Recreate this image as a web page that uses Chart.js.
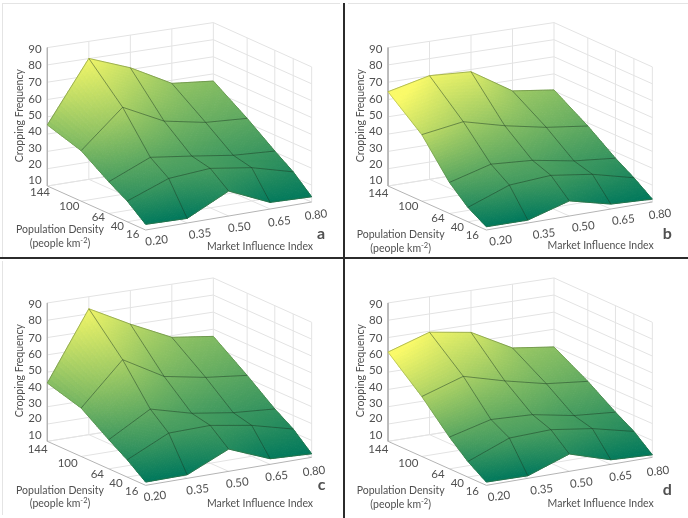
<!DOCTYPE html>
<html lang="en">

<head>
  <meta charset="UTF-8">
  <title>Cropping Frequency surfaces</title>
  <script src="https://cdn.jsdelivr.net/npm/chart.js"></script>
  <style>
    body { margin: 0; background: #fff; width: 688px; height: 518px; overflow: hidden; position: relative; }
    canvas { position: absolute; filter: blur(0.35px); }
    .rule { position: absolute; background: #2b2b2b; }
    .edge { position: absolute; background: #e4e4e4; }
  </style>
</head>

<body>
  <div class="edge" style="left:3px;top:3px;width:337px;height:1px"></div>
  <div class="edge" style="left:348px;top:3px;width:340px;height:1px"></div>
  <div class="edge" style="left:2px;top:3px;width:1px;height:254px"></div>
  <div class="edge" style="left:2px;top:261px;width:1px;height:254px"></div>
  <canvas id="a" width="344" height="260" style="left:0;top:0"></canvas>
  <canvas id="b" width="344" height="260" style="left:344px;top:0"></canvas>
  <canvas id="c" width="344" height="260" style="left:0;top:258px"></canvas>
  <canvas id="d" width="344" height="260" style="left:344px;top:258px"></canvas>
  <div class="rule" style="left:0;top:257px;width:688px;height:2px"></div>
  <div class="rule" style="left:343px;top:3px;width:2px;height:515px"></div>

  <script>
    const densityValues = [144, 100, 64, 40, 16];
    const marketValues = [0.20, 0.35, 0.50, 0.65, 0.80];
    const marketLabels = ['0.20', '0.35', '0.50', '0.65', '0.80'];
    const freqTicks = [90, 80, 70, 60, 50, 40, 30, 20, 10];

    // one row per density, one column per market index
    const freqA = [
      [45.3, 80.1, 71.0, 58.2, 55.8],
      [39.3, 60.7, 48.8, 44.2, 42.7],
      [28.5, 38.8, 35.6, 32.1, 30.6],
      [22.1, 31.3, 33.2, 29.6, 23.1],
      [13.3, 12.7, 24.7, 13.9, 13.1]
    ];
    const freqB = [
      [64.5, 70.1, 68.7, 53.8, 50.6],
      [48.6, 52.3, 46.1, 41.3, 38.2],
      [28.1, 34.8, 33.1, 28.8, 26.4],
      [18.4, 27.4, 29.1, 25.7, 19.6],
      [11.9, 11.7, 18.9, 12.9, 11.7]
    ];
    const freqC = [
      [43.7, 83.0, 70.4, 59.0, 55.8],
      [38.1, 62.4, 48.8, 44.4, 41.7],
      [27.0, 40.9, 34.5, 30.9, 29.1],
      [20.1, 31.7, 32.2, 28.2, 22.0],
      [11.9, 12.1, 23.1, 13.3, 12.1]
    ];
    const freqD = [
      [61.6, 69.4, 65.6, 52.8, 49.6],
      [44.8, 52.7, 46.2, 40.7, 38.2],
      [28.5, 34.8, 33.7, 29.2, 27.2],
      [19.1, 28.8, 29.7, 26.3, 20.6],
      [11.9, 11.5, 20.2, 12.7, 11.5]
    ];

    // layout, in units of a third of a pixel
    const panels = [
      {
        id: 'a', values: freqA, ox: 142, oy: 558,
        freqX: 125, freqY: [148, 195, 248, 298, 347, 395, 445, 492, 540],
        densityPos: [[120, 578], [208, 618], [295, 652], [352, 680], [398, 703]],
        marketPos: [[470, 722], [600, 702], [718, 682], [838, 665], [948, 645]],
        popPos: [180, 690], peoplePos: [180, 732], marketTitle: [780, 740], letter: [963, 703], titleX: 60, titleY: 347
      },
      {
        id: 'b', values: freqB, ox: 132, oy: 558,
        freqX: 115, freqY: [148, 195, 248, 298, 347, 395, 445, 492, 540],
        densityPos: [[103, 580], [193, 620], [282, 655], [340, 682], [385, 705]],
        marketPos: [[470, 722], [600, 702], [718, 680], [838, 660], [948, 643]],
        popPos: [170, 705], peoplePos: [170, 747], marketTitle: [770, 738], letter: [970, 703], titleX: 50, titleY: 347
      },
      {
        id: 'c', values: freqC, ox: 142, oy: 550,
        freqX: 125, freqY: [140, 188, 240, 290, 338, 388, 435, 482, 532],
        densityPos: [[113, 575], [203, 615], [292, 648], [348, 676], [395, 700]],
        marketPos: [[465, 715], [593, 695], [712, 675], [830, 655], [942, 640]],
        popPos: [180, 697], peoplePos: [180, 738], marketTitle: [780, 738], letter: [965, 682], titleX: 60, titleY: 338
      },
      {
        id: 'd', values: freqD, ox: 132, oy: 550,
        freqX: 115, freqY: [140, 188, 240, 290, 338, 388, 435, 482, 532],
        densityPos: [[103, 575], [193, 615], [282, 650], [340, 677], [385, 700]],
        marketPos: [[465, 715], [593, 695], [712, 675], [830, 655], [942, 640]],
        popPos: [170, 698], peoplePos: [170, 740], marketTitle: [770, 738], letter: [970, 695], titleX: 50, titleY: 338
      }
    ];

    const FONT = 'Lato, "Open Sans", sans-serif';
    const TEXT = '#505050';

    function project(panel, market, density, freq) {
      const u = (market - 0.2) / 0.6;
      const v = (144 - density) / 128;
      // slight perspective: far corner sits lower, right side is shorter
      const lift = 5.19 * (1 - 0.012 * u - 0.012 * v);
      return {
        x: panel.ox + 498 * u + 295 * v,
        y: panel.oy - 84 * u + 132 * v + 4 * u * (1 - v) - (freq - 10) * lift
      };
    }

    function lineSet(points, color, width, order) {
      return {
        data: points, showLine: true, pointRadius: 0, borderColor: color,
        borderWidth: width, order: order, tension: 0
      };
    }

    // summer colormap, scaled to each panel's own range
    function surfaceColor(panel, freq, col) {
      const flat = panel.values.flat();
      const low = Math.min(...flat), high = Math.max(...flat);
      const lift = 1 + 0.2 * Math.max(0, 1 - col) - 0.04 * col;
      const t = Math.min(1, Math.max(0, (freq - low) / (high - low) * lift));
      return `rgb(${Math.round(250 * t)}, ${Math.round(120 + 130 * t)}, ${Math.round(92 + 12 * t)})`;
    }

    function buildDatasets(panel) {
      const sets = [];
      const wall = '#e3e3e3';
      const first = marketValues[0], last = marketValues[4];
      // walls
      freqTicks.forEach(z => {
        sets.push(lineSet([project(panel, first, 144, z), project(panel, last, 144, z), project(panel, last, 16, z)], wall, 1, 4));
      });
      marketValues.slice(0, 4).forEach(m => {
        sets.push(lineSet([project(panel, m, 144, 10), project(panel, m, 144, 90)], wall, 1, 4));
      });
      densityValues.forEach(d => {
        sets.push(lineSet([project(panel, last, d, 10), project(panel, last, d, 90)], wall, 1, 4));
      });
      // floor
      densityValues.slice(0, 4).forEach(d => {
        sets.push(lineSet([project(panel, first, d, 10), project(panel, last, d, 10)], wall, 1, 4));
      });
      marketValues.slice(1).forEach(m => {
        sets.push(lineSet([project(panel, m, 144, 10), project(panel, m, 16, 10)], wall, 1, 4));
      });
      // axis lines
      sets.push(lineSet([project(panel, first, 144, 90), project(panel, first, 144, 10), project(panel, first, 16, 10), project(panel, last, 16, 10)], '#b4b4b4', 1, 3));

      // surface vertices, painted by the plugin below
      const verts = [];
      densityValues.forEach((d, r) => marketValues.forEach((m, c) => verts.push(project(panel, m, d, panel.values[r][c]))));
      sets.push({ label: 'surface', data: verts, showLine: false, pointRadius: 0, order: 2 });

      // mesh
      densityValues.forEach((d, r) => {
        const edge = r === 0 || r === 4;
        sets.push(lineSet(marketValues.map((m, c) => project(panel, m, d, panel.values[r][c])), edge ? 'rgba(80,100,50,0.6)' : 'rgba(25,50,30,0.65)', 0.7, 1));
      });
      marketValues.forEach((m, c) => {
        const edge = c === 0 || c === 4;
        sets.push(lineSet(densityValues.map((d, r) => project(panel, m, d, panel.values[r][c])), edge ? 'rgba(80,100,50,0.4)' : 'rgba(25,50,30,0.65)', 0.7, 1));
      });
      return sets;
    }

    function surfacePlugin(panel) {
      return {
        id: 'surface',
        beforeDatasetDraw(chart, args) {
          if (chart.data.datasets[args.index].label !== 'surface') return;
          const ctx = chart.ctx, sx = chart.scales.x, sy = chart.scales.y;
          const steps = 16;
          const z = panel.values;
          const at = (r, c, fr, fc) => {
            const f = z[r][c] * (1 - fr) * (1 - fc) + z[r + 1][c] * fr * (1 - fc) + z[r][c + 1] * (1 - fr) * fc + z[r + 1][c + 1] * fr * fc;
            const m = marketValues[c] + (marketValues[c + 1] - marketValues[c]) * fc;
            const d = densityValues[r] + (densityValues[r + 1] - densityValues[r]) * fr;
            const p = project(panel, m, d, f);
            return { x: sx.getPixelForValue(p.x), y: sy.getPixelForValue(p.y), f: f };
          };
          ctx.save();
          ctx.lineWidth = 1;
          for (let r = 0; r < 4; r++) {
            for (let c = 0; c < 4; c++) {
              for (let i = 0; i < steps; i++) {
                for (let j = 0; j < steps; j++) {
                  const p1 = at(r, c, i / steps, j / steps);
                  const p2 = at(r, c, i / steps, (j + 1) / steps);
                  const p3 = at(r, c, (i + 1) / steps, (j + 1) / steps);
                  const p4 = at(r, c, (i + 1) / steps, j / steps);
                  const color = surfaceColor(panel, (p1.f + p2.f + p3.f + p4.f) / 4, c + (j + 0.5) / steps);
                  ctx.fillStyle = color;
                  ctx.strokeStyle = color;
                  ctx.beginPath();
                  ctx.moveTo(p1.x, p1.y);
                  ctx.lineTo(p2.x, p2.y);
                  ctx.lineTo(p3.x, p3.y);
                  ctx.lineTo(p4.x, p4.y);
                  ctx.closePath();
                  ctx.fill();
                  ctx.stroke();
                }
              }
            }
          }
          ctx.restore();
        }
      };
    }

    function labelPlugin(panel) {
      return {
        id: 'labels',
        afterDraw(chart) {
          const ctx = chart.ctx, sx = chart.scales.x, sy = chart.scales.y;
          const put = (text, pos, font, align, angle) => {
            ctx.save();
            ctx.translate(sx.getPixelForValue(pos[0]), sy.getPixelForValue(pos[1]));
            if (angle) ctx.rotate(angle);
            ctx.font = font;
            ctx.fillStyle = TEXT;
            ctx.textAlign = align || 'center';
            ctx.textBaseline = 'middle';
            ctx.fillText(text, 0, 0);
            ctx.restore();
          };
          const tickFont = `11.5px ${FONT}`;
          const titleFont = `10.5px ${FONT}`;
          freqTicks.forEach((t, i) => put(String(t), [panel.freqX, panel.freqY[i]], tickFont, 'right'));
          densityValues.forEach((d, i) => put(String(d), panel.densityPos[i], tickFont));
          marketLabels.forEach((m, i) => put(m, panel.marketPos[i], tickFont, 'center', -0.12));
          put('Cropping Frequency', [panel.titleX, panel.titleY], titleFont, 'center', -Math.PI / 2);
          put('Population Density', panel.popPos, titleFont);
          put('Market Influence Index', panel.marketTitle, titleFont);

          // unit line, with a raised exponent
          ctx.save();
          ctx.font = titleFont;
          ctx.fillStyle = TEXT;
          ctx.textBaseline = 'middle';
          const head = '(people km', tail = ')', sup = '-2';
          const headW = ctx.measureText(head).width, tailW = ctx.measureText(tail).width;
          ctx.font = `7.5px ${FONT}`;
          const supW = ctx.measureText(sup).width;
          const px = sx.getPixelForValue(panel.peoplePos[0]) - (headW + supW + tailW) / 2;
          const py = sy.getPixelForValue(panel.peoplePos[1]);
          ctx.fillText(sup, px + headW, py - 3);
          ctx.font = titleFont;
          ctx.fillText(head, px, py);
          ctx.fillText(tail, px + headW + supW, py);
          ctx.restore();

          put(panel.id, panel.letter, `bold 16px ${FONT}`);
        }
      };
    }

    panels.forEach(panel => {
      new Chart(document.getElementById(panel.id), {
        type: 'scatter',
        data: { datasets: buildDatasets(panel) },
        options: {
          responsive: false,
          animation: false,
          layout: { padding: 0 },
          scales: {
            x: { type: 'linear', min: 0, max: 1032, display: false },
            y: { type: 'linear', min: 0, max: 780, reverse: true, display: false }
          },
          plugins: { legend: { display: false }, tooltip: { enabled: false } }
        },
        plugins: [surfacePlugin(panel), labelPlugin(panel)]
      });
    });
  </script>
</body>

</html>
